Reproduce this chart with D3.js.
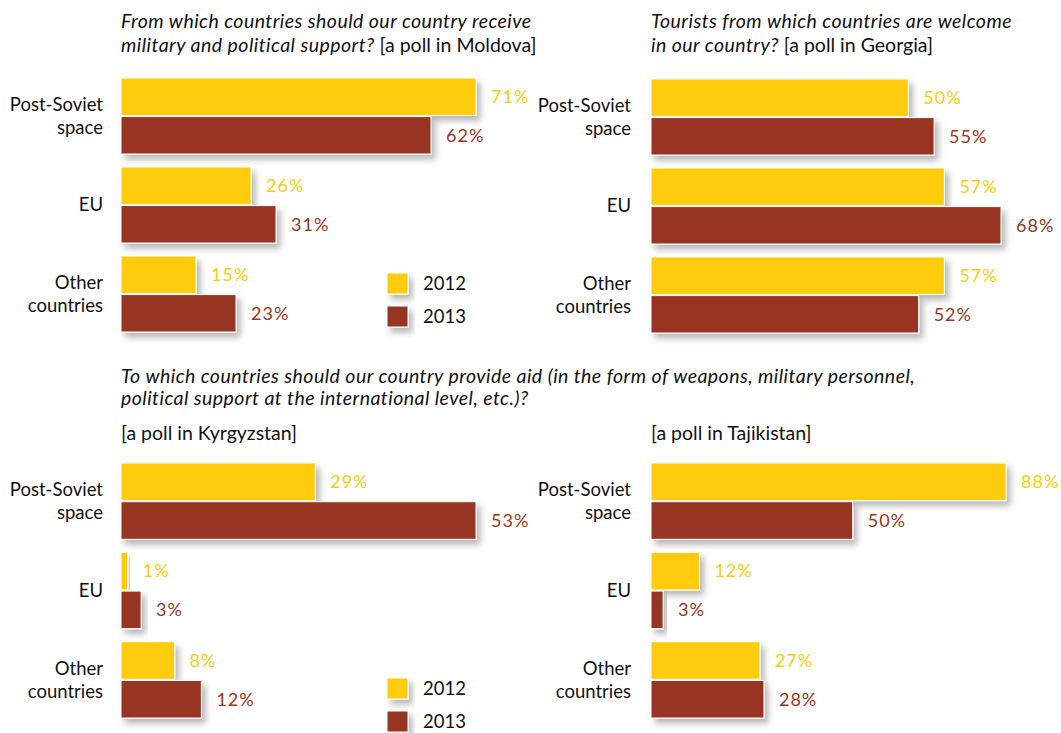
<!DOCTYPE html>
<html>
<head>
<meta charset="utf-8">
<script src="https://cdn.jsdelivr.net/npm/d3@7"></script>
<style>
  body { margin: 0; background: #fff; }
  svg { display: block; }
  text { font-family: Lato, "Open Sans", sans-serif; }
</style>
</head>
<body>
<svg id="chart" width="1061" height="733"></svg>
<script>
// ---- data ----
const categories = ["Post-Soviet space", "EU", "Other countries"];
const categoryLines = [["Post-Soviet", "space"], ["EU"], ["Other", "countries"]];
const years = ["2012", "2013"];

const moldova2012 = [71, 26, 15];
const moldova2013 = [62, 31, 23];
const georgia2012 = [50, 57, 57];
const georgia2013 = [55, 68, 52];
const kyrgyzstan2012 = [29, 1, 8];
const kyrgyzstan2013 = [53, 3, 12];
const tajikistan2012 = [88, 12, 27];
const tajikistan2013 = [50, 3, 28];

const colors = { "2012": "#FECC07", "2013": "#973521" };

// ---- layout ----
const svg = d3.select("#chart");
const defs = svg.append("defs");
const f = defs.append("filter").attr("id", "shadow")
  .attr("x", "-20%").attr("y", "-30%").attr("width", "150%").attr("height", "180%");
f.append("feDropShadow").attr("dx", 4).attr("dy", 5).attr("stdDeviation", 3)
  .attr("flood-color", "#000").attr("flood-opacity", 0.28);

const panels = [
  { v2012: moldova2012, v2013: moldova2013, x0: 121, w: 355, y0: 78, y1: 332, labelX: 103 },
  { v2012: georgia2012, v2013: georgia2013, x0: 651, w: 350, y0: 79, y1: 333, labelX: 631 },
  { v2012: kyrgyzstan2012, v2013: kyrgyzstan2013, x0: 121, w: 355, y0: 463, y1: 718, labelX: 103 },
  { v2012: tajikistan2012, v2013: tajikistan2013, x0: 651, w: 355, y0: 463, y1: 718, labelX: 631 }
];

panels.forEach(p => {
  const rows = categories.map((c, i) => ({ cat: c, lines: categoryLines[i], vals: { "2012": p.v2012[i], "2013": p.v2013[i] } }));
  const maxV = d3.max(rows, r => Math.max(r.vals["2012"], r.vals["2013"]));
  const x = d3.scaleLinear().domain([0, maxV]).range([0, p.w]);
  const y = d3.scaleBand().domain(categories).range([p.y0, p.y1]).paddingInner(0.146).paddingOuter(0);
  const yy = d3.scaleBand().domain(years).range([0, y.bandwidth()]).paddingInner(0.03);

  const g = svg.append("g");
  const groups = g.selectAll("g.grp").data(rows).join("g")
    .attr("class", "grp")
    .attr("transform", d => `translate(${p.x0},${y(d.cat)})`);

  groups.selectAll("rect").data(d => years.map(yr => ({ yr, v: d.vals[yr] }))).join("rect")
    .attr("x", 0)
    .attr("y", d => yy(d.yr))
    .attr("width", d => x(d.v))
    .attr("height", yy.bandwidth())
    .attr("fill", d => colors[d.yr])
    .attr("stroke", "#fff").attr("stroke-width", 1)
    .attr("filter", "url(#shadow)");

  groups.selectAll("text.val").data(d => years.map(yr => ({ yr, v: d.vals[yr] }))).join("text")
    .attr("class", "val")
    .attr("x", d => x(d.v) + 15)
    .attr("y", d => yy(d.yr) + yy.bandwidth() / 2)
    .attr("dy", "0.35em")
    .attr("fill", d => colors[d.yr])
    .attr("font-size", 18)
    .attr("letter-spacing", 1)
    .text(d => d.v + "%");

  // category labels
  groups.each(function(d) {
    const n = d.lines.length;
    const t = d3.select(this).append("text")
      .attr("text-anchor", "end")
      .attr("font-size", 18.5)
      .attr("fill", "#111");
    d.lines.forEach((ln, k) => {
      t.append("tspan")
        .attr("x", p.labelX - p.x0)
        .attr("y", y.bandwidth() / 2 + (k - (n - 1) / 2) * 23)
        .attr("dy", "0.35em")
        .text(ln);
    });
  });
});

// ---- titles ----
function title(xp, yp, parts) {
  const t = svg.append("text").attr("x", xp).attr("y", yp).attr("font-size", 19.5).attr("fill", "#111");
  parts.forEach(pt => t.append("tspan")
    .attr("font-style", pt[1] ? "italic" : "normal")
    .attr("letter-spacing", pt[1] ? 0.45 : 0)
    .text(pt[0]));
}
title(121, 28, [["From which countries should our country receive", true]]);
title(121, 52, [["military and political support?", true], [" [a poll in Moldova]", false]]);
title(651, 28, [["Tourists from which countries are welcome", true]]);
title(651, 52, [["in our country?", true], [" [a poll in Georgia]", false]]);
title(121, 383, [["To which countries should our country provide aid (in the form of weapons, military personnel,", true]]);
title(121, 405, [["political support at the international level, etc.)?", true]]);
title(121, 440, [["[a poll in Kyrgyzstan]", false]]);
title(651, 440, [["[a poll in Tajikistan]", false]]);

// ---- legends ----
function legend(lx, ly) {
  const lg = svg.append("g").attr("transform", `translate(${lx},${ly})`);
  const items = lg.selectAll("g").data(years).join("g")
    .attr("transform", (d, i) => `translate(0,${i * 33})`);
  items.append("rect").attr("width", 21).attr("height", 21)
    .attr("fill", d => colors[d]).attr("stroke", "#fff").attr("stroke-width", 1)
    .attr("filter", "url(#shadow)");
  items.append("text").attr("x", 36).attr("y", 10.5).attr("dy", "0.35em")
    .attr("font-size", 18.5).attr("fill", "#111").text(d => d);
}
legend(387, 273);
legend(387, 678);
</script>
</body>
</html>
